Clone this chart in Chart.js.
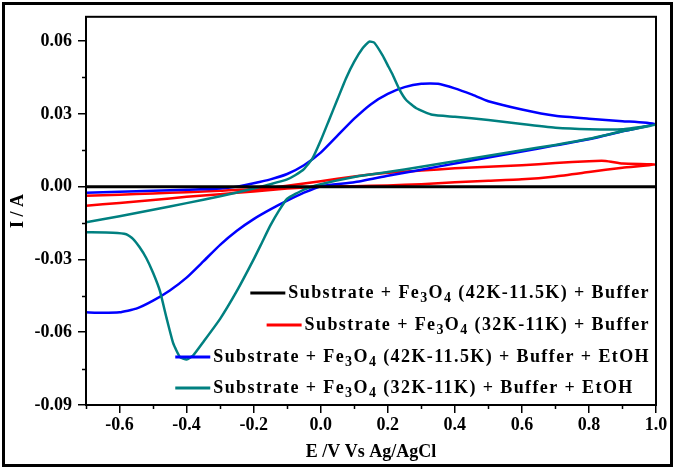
<!DOCTYPE html>
<html>
<head>
<meta charset="utf-8">
<script src="https://cdn.jsdelivr.net/npm/chart.js@4.4.1/dist/chart.umd.min.js"></script>
<style>
  html, body { margin: 0; padding: 0; background: #fff; }
</style>
</head>
<body>
<canvas id="cv" width="675" height="469"></canvas>
<script>
// each curve: potential (V) and current (A), forward sweep then reverse sweep
const blackE = [-0.7, -0.4, -0.1, 0.2, 0.5, 0.8, 1.0];
const blackI = [0, 0, 0, 0, 0, 0, 0];

const redE = [-0.7, -0.6, -0.5, -0.4, -0.3, -0.2, -0.1, 0.0, 0.1, 0.2, 0.3, 0.4, 0.5, 0.6, 0.7, 0.8, 0.85, 0.9, 1.0,
              0.9, 0.8, 0.7, 0.6, 0.5, 0.4, 0.3, 0.2, 0.1, 0.0, -0.1, -0.2, -0.3, -0.4, -0.5, -0.6, -0.7];
const redI = [-0.0038, -0.0033, -0.0028, -0.0023, -0.0017, -0.0010, 0.0004, 0.0022, 0.0042, 0.0057, 0.0066, 0.0076, 0.0082, 0.0088, 0.0097, 0.0105, 0.0106, 0.0095, 0.0091,
              0.0078, 0.0060, 0.0042, 0.0030, 0.0024, 0.0018, 0.0010, 0.0005, 0.0002, 0.0000, -0.0008, -0.0020, -0.0031, -0.0042, -0.0055, -0.0067, -0.0079];

const blueE = [-0.7, -0.6, -0.5, -0.4, -0.3, -0.25, -0.2, -0.15, -0.1, -0.05, 0.0, 0.05, 0.1, 0.15, 0.2, 0.25, 0.3, 0.35, 0.4, 0.45, 0.5, 0.6, 0.7, 0.8, 0.9, 1.0,
               0.9, 0.8, 0.7, 0.6, 0.5, 0.4, 0.3, 0.2, 0.1, 0.0, -0.05, -0.1, -0.15, -0.2, -0.25, -0.3, -0.35, -0.4, -0.45, -0.5, -0.55, -0.6, -0.65, -0.7];
const blueI = [-0.0025, -0.0021, -0.0017, -0.0013, -0.0008, 0.0000, 0.0014, 0.0030, 0.0052, 0.0088, 0.0140, 0.0210, 0.0280, 0.0340, 0.0382, 0.0410, 0.0424, 0.0424, 0.0405, 0.0380, 0.0352, 0.0318, 0.0292, 0.0280, 0.0270, 0.0259,
               0.0228, 0.0195, 0.0170, 0.0145, 0.0120, 0.0095, 0.0070, 0.0045, 0.0018, 0.0002, -0.0025, -0.0058, -0.0094, -0.0134, -0.0182, -0.0240, -0.0308, -0.0375, -0.0428, -0.0470, -0.0503, -0.0518, -0.0520, -0.0518];

const tealE = [-0.7, -0.6, -0.5, -0.4, -0.3, -0.2, -0.15, -0.1, -0.075, -0.05, -0.025, 0.0, 0.025, 0.05, 0.075, 0.1, 0.125, 0.145, 0.16, 0.185, 0.2, 0.215, 0.235, 0.255, 0.285, 0.333, 0.4, 0.5, 0.6, 0.7, 0.8, 0.9, 1.0,
               0.9, 0.8, 0.7, 0.6, 0.5, 0.4, 0.3, 0.2, 0.1, 0.0, -0.05, -0.1, -0.125, -0.15, -0.175, -0.2, -0.25, -0.3, -0.35, -0.38, -0.4, -0.42, -0.44, -0.46, -0.48, -0.5, -0.52, -0.54, -0.56, -0.58, -0.62, -0.7];
const tealI = [-0.0147, -0.0122, -0.0095, -0.0068, -0.0040, -0.0008, 0.0010, 0.0030, 0.0048, 0.0072, 0.0115, 0.0190, 0.0275, 0.0360, 0.0445, 0.0515, 0.0570, 0.0598, 0.0593, 0.0540, 0.0500, 0.0460, 0.0400, 0.0357, 0.0323, 0.0296, 0.0288, 0.0275, 0.0258, 0.0243, 0.0237, 0.0237, 0.0255,
               0.0228, 0.0197, 0.0172, 0.0150, 0.0127, 0.0105, 0.0082, 0.0060, 0.0040, 0.0010, -0.0012, -0.0050, -0.0100, -0.0160, -0.0230, -0.0300, -0.0430, -0.0545, -0.0640, -0.0695, -0.0712, -0.0702, -0.0645, -0.0540, -0.0428, -0.0355, -0.0295, -0.0250, -0.0215, -0.0196, -0.0190, -0.0188];

const seriesLabels = [
  'Substrate + Fe₃O₄ (42K-11.5K) + Buffer',
  'Substrate + Fe₃O₄ (32K-11K) + Buffer',
  'Substrate + Fe₃O₄ (42K-11.5K) + Buffer + EtOH',
  'Substrate + Fe₃O₄ (32K-11K) + Buffer + EtOH'
];
const seriesColors = ['#000000', '#ff0000', '#0000ff', '#008080'];

const xTicks = [-0.6, -0.4, -0.2, 0.0, 0.2, 0.4, 0.6, 0.8, 1.0];
const xMinor = [-0.7, -0.5, -0.3, -0.1, 0.1, 0.3, 0.5, 0.7, 0.9];
const yTicks = [-0.09, -0.06, -0.03, 0.0, 0.03, 0.06];
const yMinor = [-0.075, -0.045, -0.015, 0.015, 0.045];

const serif = '"Liberation Serif", "Times New Roman", serif';

const toPoints = (xs, ys) => xs.map((x, i) => ({ x: x, y: ys[i] }));

const SUB = '₀₁₂₃₄₅₆₇₈₉';
const runs = (text) => {
  const out = [];
  for (const ch of text) {
    const k = SUB.indexOf(ch);
    const sub = k >= 0;
    const c = sub ? String(k) : ch;
    const last = out[out.length - 1];
    if (last && last.sub === sub) last.t += c;
    else out.push({ t: c, sub: sub });
  }
  return out;
};

const mainFont = 'bold 18px ' + serif;
const subFont = 'bold 14px ' + serif;

const labelWidth = (ctx, text) => {
  let w = 0;
  for (const r of runs(text)) {
    ctx.font = r.sub ? subFont : mainFont;
    w += ctx.measureText(r.t).width;
  }
  return w;
};

const drawLabel = (ctx, text, x, y) => {
  for (const r of runs(text)) {
    ctx.font = r.sub ? subFont : mainFont;
    ctx.fillText(r.t, x, y + (r.sub ? 5 : 0));
    x += ctx.measureText(r.t).width;
  }
};

const framePlugin = {
  id: 'framePlugin',
  afterDraw: (chart) => {
    const { ctx, chartArea: { left, right, top, bottom }, scales: { x, y } } = chart;
    ctx.save();

    // outer picture frame
    ctx.strokeStyle = '#000';
    ctx.lineWidth = 3;
    ctx.strokeRect(3.5, 3.5, 668, 462);

    // plot box
    ctx.lineWidth = 2;
    ctx.strokeRect(left, top, right - left, bottom - top);

    // minor ticks
    ctx.lineWidth = 1.5;
    ctx.beginPath();
    xMinor.forEach(v => {
      const px = Math.round(x.getPixelForValue(v)) + 0.5;
      ctx.moveTo(px, bottom);
      ctx.lineTo(px, bottom + 4);
    });
    yMinor.forEach(v => {
      const py = Math.round(y.getPixelForValue(v)) + 0.5;
      ctx.moveTo(left, py);
      ctx.lineTo(left - 4, py);
    });
    ctx.stroke();

    // legend inside the plot, bottom right
    ctx.letterSpacing = '1.4px';
    ctx.textBaseline = 'middle';
    ctx.fillStyle = '#000';
    const rowY = [bottom - 112, bottom - 80, bottom - 48, bottom - 17];
    let textX = 0;
    seriesLabels.forEach((lab, i) => {
      if (i < 3) textX = right - 6 - labelWidth(ctx, lab);
      ctx.strokeStyle = seriesColors[i];
      ctx.lineWidth = 3;
      ctx.beginPath();
      ctx.moveTo(textX - 38, rowY[i]);
      ctx.lineTo(textX - 3, rowY[i]);
      ctx.stroke();
      drawLabel(ctx, lab, textX, rowY[i]);
    });
    ctx.restore();
  }
};

const tickFont = { family: serif, size: 18, weight: 'bold' };

new Chart(document.getElementById('cv'), {
  type: 'scatter',
  data: {
    datasets: [
      { data: toPoints(blackE, blackI), borderColor: seriesColors[0], borderWidth: 3, order: 0 },
      { data: toPoints(redE, redI), borderColor: seriesColors[1], borderWidth: 2.5, order: 3 },
      { data: toPoints(blueE, blueI), borderColor: seriesColors[2], borderWidth: 2.5, order: 2 },
      { data: toPoints(tealE, tealI), borderColor: seriesColors[3], borderWidth: 2.5, order: 1 }
    ].map(d => Object.assign(d, { showLine: true, pointRadius: 0, tension: 0.15, fill: false }))
  },
  options: {
    responsive: false,
    animation: false,
    layout: { padding: { left: 6, right: 19, top: 13, bottom: 6 } },
    plugins: {
      legend: { display: false },
      tooltip: { enabled: false }
    },
    scales: {
      x: {
        type: 'linear',
        min: -0.7,
        max: 1.0,
        afterBuildTicks: (s) => { s.ticks = xTicks.map(v => ({ value: v })); },
        afterFit: (s) => { s.height = 58; },
        ticks: { callback: (v) => v.toFixed(1), font: tickFont, color: '#000', padding: 2, maxRotation: 0, autoSkip: false },
        grid: { drawOnChartArea: false, tickLength: 8, color: '#000', lineWidth: 1.5 },
        border: { display: true, color: '#000', width: 2 },
        title: { display: true, text: 'E /V Vs Ag/AgCl', font: tickFont, color: '#000', padding: 0 }
      },
      y: {
        type: 'linear',
        min: -0.09,
        max: 0.07,
        afterBuildTicks: (s) => { s.ticks = yTicks.map(v => ({ value: v })); },
        afterFit: (s) => { s.width = 80; },
        ticks: { callback: (v) => v.toFixed(2), font: tickFont, color: '#000', padding: 6, autoSkip: false },
        grid: { drawOnChartArea: false, tickLength: 8, color: '#000', lineWidth: 1.5 },
        border: { display: true, color: '#000', width: 2 },
        title: { display: true, text: 'I / A', font: tickFont, color: '#000', padding: { top: 2, bottom: 0 } }
      }
    }
  },
  plugins: [framePlugin]
});
</script>
</body>
</html>
